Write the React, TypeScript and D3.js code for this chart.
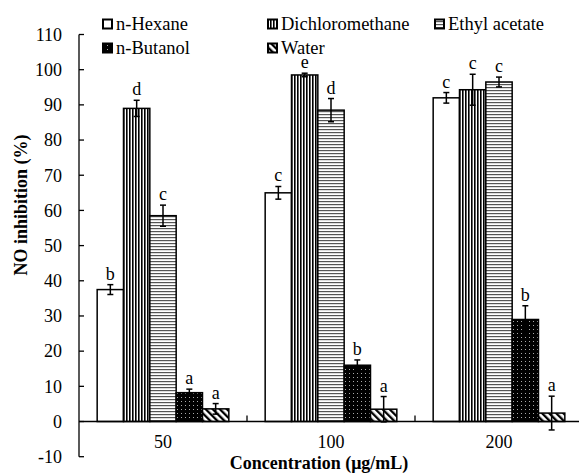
import React from "react";
import * as d3 from "d3";

const categories = ["50", "100", "200"];
const seriesNames = ["n-Hexane", "Dichloromethane", "Ethyl acetate", "n-Butanol", "Water"];
const hexane = [37.5, 65.0, 92.0];
const dichloromethane = [89.0, 98.5, 94.3];
const ethylAcetate = [58.5, 88.5, 96.5];
const butanol = [8.2, 16.0, 29.0];
const water = [3.6, 3.5, 2.4];
const hexaneErr = [1.4, 1.8, 1.5];
const dichloromethaneErr = [2.3, 0.5, 4.4];
const ethylAcetateErr = [3.0, 3.3, 1.4];
const butanolErr = [1.0, 1.5, 3.9];
const waterErr = [1.5, 3.6, 4.8];
const hexaneLetters = ["b", "c", "c"];
const dichloromethaneLetters = ["d", "e", "c"];
const ethylAcetateLetters = ["c", "d", "c"];
const butanolLetters = ["a", "b", "b"];
const waterLetters = ["a", "a", "a"];
const yTicks = [-10, 0, 10, 20, 30, 40, 50, 60, 70, 80, 90, 100, 110];

const values = [hexane, dichloromethane, ethylAcetate, butanol, water];
const errors = [hexaneErr, dichloromethaneErr, ethylAcetateErr, butanolErr, waterErr];
const letters = [hexaneLetters, dichloromethaneLetters, ethylAcetateLetters, butanolLetters, waterLetters];
const fills = ["#ffffff", "url(#pVert)", "url(#pHoriz)", "url(#pDots)", "url(#pDiag)"];

const W = 579;
const H = 473;
const FONT = "'Liberation Serif', 'Times New Roman', serif";

export default function App() {
  const y = d3.scaleLinear().domain([-10, 110]).range([456.7, 34.5]);
  const x0 = d3.scaleBand().domain(categories).range([79, 583]).paddingInner(0).paddingOuter(0);
  const x1 = d3
    .scaleBand()
    .domain(seriesNames)
    .range([0, x0.bandwidth()])
    .paddingInner(0)
    .paddingOuter(0.69);
  const bw = x1.bandwidth();
  const y0 = y(0);

  const legendPos = [
    [102, 24],
    [267, 24],
    [434, 24],
    [102, 48],
    [267, 48],
  ];

  return (
    <svg
      width={W}
      height={H}
      style={{ position: "absolute", left: 0, top: 0, background: "#fff" }}
      fontFamily={FONT}
    >
      <defs>
        <pattern id="pVert" width="3" height="4" patternUnits="userSpaceOnUse">
          <rect width="3" height="4" fill="#fff" />
          <rect x="0" width="1.6" height="4" fill="#000" />
        </pattern>
        <pattern id="pHoriz" width="4" height="3" patternUnits="userSpaceOnUse">
          <rect width="4" height="3" fill="#fff" />
          <rect y="0" width="4" height="1.2" fill="#555" />
        </pattern>
        <pattern id="pDots" width="4" height="4" patternUnits="userSpaceOnUse">
          <rect width="4" height="4" fill="#000" />
          <rect x="1" y="1" width="1" height="1" fill="#aaa" />
        </pattern>
        <pattern id="pDiag" width="5" height="5" patternUnits="userSpaceOnUse" patternTransform="rotate(-45)">
          <rect width="5" height="5" fill="#fff" />
          <rect x="0" width="2.3" height="5" fill="#000" />
        </pattern>
      </defs>

      {/* bars */}
      {categories.map((c, ci) =>
        seriesNames.map((s, si) => {
          const v = values[si][ci];
          const bx = (x0(c) as number) + (x1(s) as number);
          const top = y(Math.max(v, 0));
          const h = Math.abs(y(v) - y0);
          return (
            <rect
              key={`b${ci}-${si}`}
              x={bx}
              y={top}
              width={bw}
              height={h}
              fill={fills[si]}
              stroke="#000"
              strokeWidth={1.5}
            />
          );
        })
      )}

      {/* error bars & letters */}
      {categories.map((c, ci) =>
        seriesNames.map((s, si) => {
          const v = values[si][ci];
          const e = errors[si][ci];
          const cx = (x0(c) as number) + (x1(s) as number) + bw / 2;
          const yt = y(v + e);
          const yb = y(v - e);
          return (
            <g key={`e${ci}-${si}`} stroke="#000" strokeWidth={1.5}>
              <line x1={cx} x2={cx} y1={yt} y2={yb} />
              <line x1={cx - 3} x2={cx + 3} y1={yt} y2={yt} />
              <line x1={cx - 3} x2={cx + 3} y1={yb} y2={yb} />
              <text
                x={cx}
                y={yt - 5}
                textAnchor="middle"
                fontSize={18}
                stroke="none"
                fill="#000"
              >
                {letters[si][ci]}
              </text>
            </g>
          );
        })
      )}

      {/* y axis */}
      <line x1={79} x2={79} y1={y(110)} y2={y(-10)} stroke="#000" strokeWidth={1.3} />
      {yTicks.map((t) => (
        <g key={`yt${t}`}>
          <line x1={79} x2={84} y1={y(t)} y2={y(t)} stroke="#000" strokeWidth={1.3} />
          <text x={62} y={y(t)} dy="0.35em" textAnchor="end" fontSize={18} fill="#000">
            {t}
          </text>
        </g>
      ))}

      {/* x axis at zero */}
      <line x1={79} x2={583} y1={y0} y2={y0} stroke="#000" strokeWidth={1.3} />
      {categories.map((c) => (
        <g key={`xt${c}`}>
          <line
            x1={(x0(c) as number) + x0.bandwidth()}
            x2={(x0(c) as number) + x0.bandwidth()}
            y1={y0}
            y2={y0 - 6}
            stroke="#000"
            strokeWidth={1.3}
          />
          <text
            x={(x0(c) as number) + x0.bandwidth() / 2}
            y={448}
            textAnchor="middle"
            fontSize={18}
            fill="#000"
          >
            {c}
          </text>
        </g>
      ))}

      {/* axis titles */}
      <text x={319} y={469} textAnchor="middle" fontSize={18} fontWeight="bold" fill="#000">
        Concentration (μg/mL)
      </text>
      <text
        transform={`translate(27, 205) rotate(-90)`}
        textAnchor="middle"
        fontSize={18}
        fontWeight="bold"
        fill="#000"
      >
        NO inhibition (%)
      </text>

      {/* legend */}
      {seriesNames.map((s, si) => (
        <g key={`lg${si}`} transform={`translate(${legendPos[si][0]}, ${legendPos[si][1]})`}>
          <rect x={1} y={-4.5} width={9} height={9} fill={fills[si]} stroke="#000" strokeWidth={2} />
          <text x={14} y={0} dy="0.35em" fontSize={18.5} fill="#000">
            {s}
          </text>
        </g>
      ))}
    </svg>
  );
}
